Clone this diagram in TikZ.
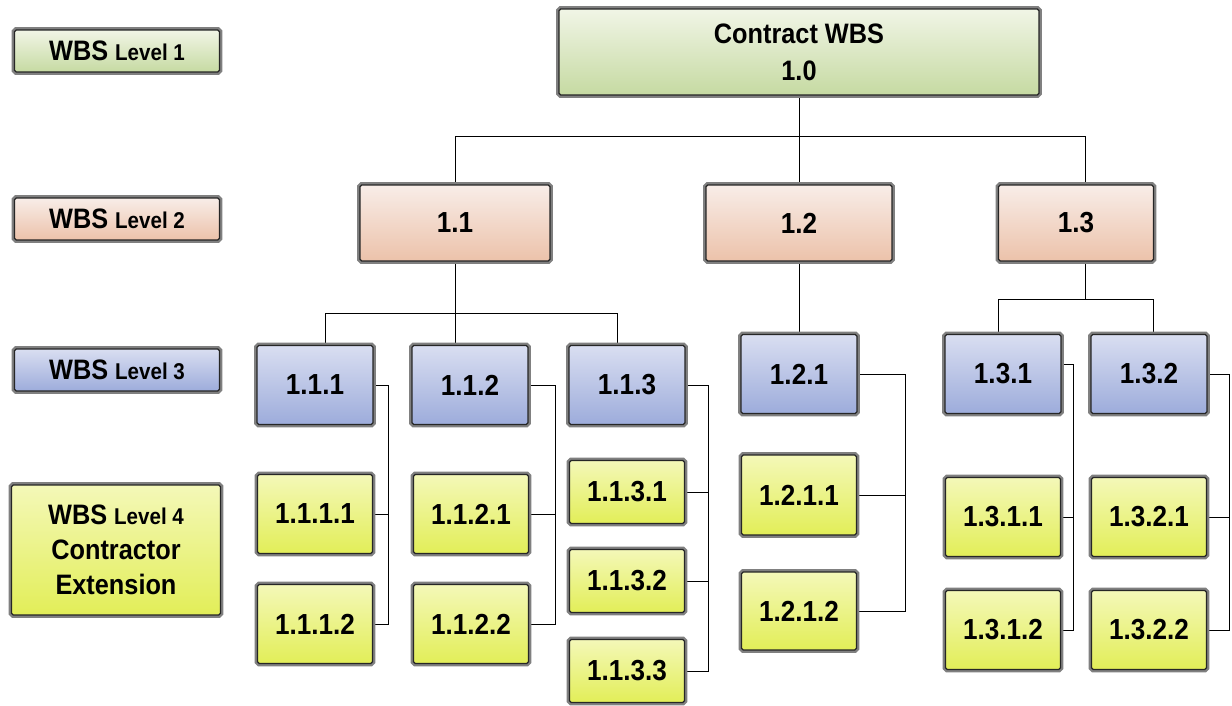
\documentclass[tikz,border=0pt]{standalone}
\usepackage{fontspec}
\setmainfont{Liberation Sans}[FakeStretch=0.9]
\usetikzlibrary{backgrounds}

\definecolor{lvonetop}{HTML}{F1F5E6}
\definecolor{lvonebot}{HTML}{C6DAA2}
\definecolor{lvtwotop}{HTML}{F8EDE8}
\definecolor{lvtwobot}{HTML}{ECC2AA}
\definecolor{lvthreetop}{HTML}{D9DEF1}
\definecolor{lvthreebot}{HTML}{9DACDB}
\definecolor{lvfourtop}{HTML}{F4F8B8}
\definecolor{lvfourbot}{HTML}{E2EE58}

\begin{document}
\begin{tikzpicture}[x=0.02cm, y=-0.02cm, line width=1.5pt,
  box/.style={rectangle, rounded corners=1pt, draw=black!85, line width=0.7pt,
    preaction={draw=black!50, line width=3.4pt}, align=center, inner sep=0pt,
    font=\fontsize{16.5}{20}\selectfont\bfseries},
  lvone/.style={box, top color=lvonetop, bottom color=lvonebot},
  lvtwo/.style={box, top color=lvtwotop, bottom color=lvtwobot},
  lvthree/.style={box, top color=lvthreetop, bottom color=lvthreebot},
  lvfour/.style={box, top color=lvfourtop, bottom color=lvfourbot},
  legend/.style={minimum width=4.1cm, minimum height=0.84cm}]

\useasboundingbox (0,0) rectangle (1232,706);

% legend
\node[lvone, legend] (lg1) at (117,51) {\fontsize{16}{18}\selectfont WBS {\fontsize{13}{14}\selectfont Level 1}};
\node[lvtwo, legend] (lg2) at (117,219) {\fontsize{16}{18}\selectfont WBS {\fontsize{13}{14}\selectfont Level 2}};
\node[lvthree, legend] (lg3) at (117,370) {\fontsize{16}{18}\selectfont WBS {\fontsize{13}{14}\selectfont Level 3}};
\node[lvfour, minimum width=4.18cm, minimum height=2.6cm,
  font=\fontsize{16}{20}\selectfont\bfseries] (lg4) at (116,550)
  {WBS {\fontsize{13}{14}\selectfont Level 4}\\Contractor\\Extension};

% levels 1 and 2
\node[lvone, minimum width=9.6cm, minimum height=1.72cm,
  font=\fontsize{16}{21}\selectfont\bfseries] (n10) at (799,52) {Contract WBS\\1.0};
\node[lvtwo, minimum width=3.8cm, minimum height=1.52cm] (n11) at (455,223) {1.1};
\node[lvtwo, minimum width=3.72cm, minimum height=1.52cm] (n12) at (799,223) {1.2};
\node[lvtwo, minimum width=3.1cm, minimum height=1.52cm] (n13) at (1076,223) {1.3};

% level 3
\foreach \name/\lbl/\x/\y in {111/1.1.1/315/385, 112/1.1.2/470/385, 113/1.1.3/627/385,
    121/1.2.1/799/374, 131/1.3.1/1003/374, 132/1.3.2/1149/374}
  \node[lvthree, minimum width=2.32cm, minimum height=1.58cm] (n\name) at (\x,\y) {\lbl};

% level 4
\foreach \name/\lbl/\x/\y/\h in {1111/1.1.1.1/315/514/1.58, 1112/1.1.1.2/315/624/1.58,
    1121/1.1.2.1/471/514/1.58, 1122/1.1.2.2/471/624/1.58,
    1131/1.1.3.1/627/492/1.26, 1132/1.1.3.2/627/581/1.26, 1133/1.1.3.3/627/671/1.26,
    1211/1.2.1.1/799/495/1.6, 1212/1.2.1.2/799/611/1.56,
    1311/1.3.1.1/1003/517/1.58, 1312/1.3.1.2/1003/630/1.58,
    1321/1.3.2.1/1149/517/1.58, 1322/1.3.2.2/1149/630/1.58}
  \node[lvfour, minimum width=2.3cm, minimum height=\h cm] (n\name) at (\x,\y) {\lbl};

\begin{pgfonlayer}{background}
\draw (n10.south) -- ++(0,41) coordinate (j10);
\draw (j10) -| (n11.north);
\draw (j10) -- (n12.north);
\draw (j10) -| ([xshift=0.19cm]n13.north);

\draw (n11.south) -- ++(0,52) coordinate (j11);
\draw (j11) -| ([xshift=0.2cm]n111.north);
\draw (j11) -- (j11 |- n112.north);
\draw (j11) -| ([xshift=-0.2cm]n113.north);

\draw (n12.south) -- (n121.north);

\draw ([xshift=0.19cm]n13.south) -- ++(0,38) coordinate (j13);
\draw (j13) -| ([xshift=-0.1cm]n131.north);
\draw (j13) -| ([xshift=0.08cm]n132.north);

\draw (n111.east) -- ++(15,0) coordinate (s111) |- (n1112.east);
\draw (n1111.east) -- (n1111.east -| s111);
\draw (n112.east) -- ++(27,0) coordinate (s112) |- (n1122.east);
\draw (n1121.east) -- (n1121.east -| s112);
\draw (n113.east) -- ++(23,0) coordinate (s113) |- (n1133.east);
\draw (n1131.east) -- (n1131.east -| s113);
\draw (n1132.east) -- (n1132.east -| s113);
\draw (n121.east) -- ++(48,0) coordinate (s121) |- (n1212.east);
\draw (n1211.east) -- (n1211.east -| s121);
\draw ([yshift=0.2cm]n131.east) -- ++(12,0) coordinate (s131) |- (n1312.east);
\draw (n1311.east) -- (n1311.east -| s131);
\draw (n132.east) -- ++(22,0) coordinate (s132) |- (n1322.east);
\draw (n1321.east) -- (n1321.east -| s132);
\end{pgfonlayer}

\end{tikzpicture}
\end{document}
